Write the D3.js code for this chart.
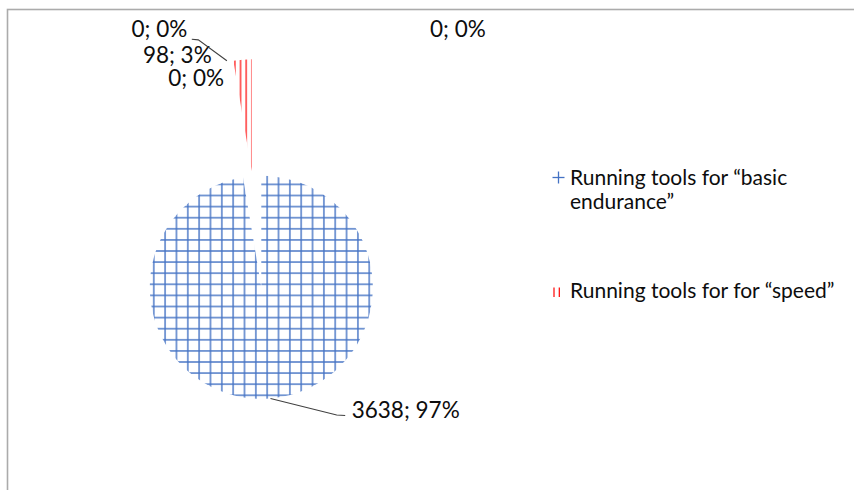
<!DOCTYPE html>
<html><head><meta charset="utf-8">
<script src="https://cdn.jsdelivr.net/npm/d3@7/dist/d3.min.js"></script>
<style>body{margin:0;background:#fff;} svg{display:block;}</style>
</head><body>
<svg id="chart" width="854" height="490"></svg>
<script>
// ---------- data ----------
const categories = ["Running tools for \u201Cbasic endurance\u201D", "Running tools for for \u201Cspeed\u201D", "", "", ""];
const values = [3638, 98, 0, 0, 0];
const seriesColors = ["#4472C4", "#FF0000", "#4472C4", "#4472C4", "#4472C4"];

// ---------- layout ----------
const W = 854, H = 490;
const cx = 261.3, cy = 287.3, R = 111.5;
const explode = [0, 117, 0, 0, 0];
// label anchors relative to pie centre
const labelLayout = [
  {dx: 90.4,  dy: 130.7,  anchor: "start"},
  {dx: -49.6, dy: -224.8, anchor: "end"},
  {dx: -74,   dy: -250.6, anchor: "end"},
  {dx: -37.3, dy: -201.3, anchor: "end"},
  {dx: 168.7, dy: -250.6, anchor: "start"}
];
const labelFont = 22.5, legendFont = 21;
const fontFamily = "Lato, 'Open Sans', sans-serif";

const svg = d3.select("#chart");
svg.append("rect").attr("width", W).attr("height", H).attr("fill", "#fff");
// chart border
svg.append("rect").attr("x", 7.5).attr("y", 9.5).attr("width", 1000).attr("height", 1000)
  .attr("fill", "none").attr("stroke", "#ababab").attr("stroke-width", 1.6);

// ---------- patterns ----------
const defs = svg.append("defs");
const gx = 11.34, gy = 11.1;
const grid = defs.append("pattern").attr("id", "pGrid").attr("patternUnits", "userSpaceOnUse")
  .attr("x", 153.3 - gx / 2).attr("y", 185.7 - gy / 2).attr("width", gx).attr("height", gy);
grid.append("line").attr("x1", gx / 2).attr("x2", gx / 2).attr("y1", 0).attr("y2", gy)
  .attr("stroke", seriesColors[0]).attr("stroke-width", 1.4);
grid.append("line").attr("y1", gy / 2).attr("y2", gy / 2).attr("x1", 0).attr("x2", gx)
  .attr("stroke", seriesColors[0]).attr("stroke-width", 1.4);
const vx = gx / 2;
const vert = defs.append("pattern").attr("id", "pVert").attr("patternUnits", "userSpaceOnUse")
  .attr("x", 238.35 - vx / 2).attr("y", 0).attr("width", vx).attr("height", 20);
vert.append("line").attr("x1", vx / 2).attr("x2", vx / 2).attr("y1", 0).attr("y2", 20)
  .attr("stroke", seriesColors[1]).attr("stroke-width", 1.2);
const fills = ["url(#pGrid)", "url(#pVert)", "url(#pGrid)", "url(#pGrid)", "url(#pGrid)"];

// ---------- pie ----------
const pie = d3.pie().sort(null).value(d => d).startAngle(0).endAngle(2 * Math.PI);
const arcs = pie(values);
const arc = d3.arc().innerRadius(0).outerRadius(R);
const total = d3.sum(values);

function offset(a) {
  const m = (a.startAngle + a.endAngle) / 2;
  const d = explode[a.index];
  return [d * Math.sin(m), -d * Math.cos(m)];
}

const g = svg.append("g").attr("transform", `translate(${cx},${cy})`);
g.selectAll("path.slice").data(arcs).join("path")
  .attr("class", "slice")
  .attr("transform", d => { const o = offset(d); return `translate(${o[0]},${o[1]})`; })
  .attr("d", arc)
  .attr("fill", (d, i) => fills[i])
  .attr("stroke", "none");

// ---------- labels ----------
const labelText = v => `${v}; ${Math.round(v / total * 100)}%`;
g.selectAll("text.lbl").data(arcs).join("text")
  .attr("class", "lbl")
  .attr("x", (d, i) => labelLayout[i].dx)
  .attr("y", (d, i) => labelLayout[i].dy)
  .attr("text-anchor", (d, i) => labelLayout[i].anchor)
  .attr("font-family", fontFamily).attr("font-size", labelFont)
  .attr("fill", "#0d0d0d")
  .text(d => labelText(d.value));

// leader lines
const lead = d3.line();
{
  const a = arcs[0], L = labelLayout[0];
  const m = (a.startAngle + a.endAngle) / 2;
  const p0 = [R * Math.sin(m), -R * Math.cos(m)];
  g.append("path").attr("d", lead([p0, [L.dx - 15, L.dy - 3], [L.dx - 6.5, L.dy - 2.5]]))
    .attr("fill", "none").attr("stroke", "#404040").attr("stroke-width", 1.1);
}
{
  const a = arcs[1], L = labelLayout[2];
  const o = offset(a);
  const p1 = [o[0] + R * Math.sin(a.startAngle) - 6.5, o[1] - R * Math.cos(a.startAngle)];
  g.append("path").attr("d", lead([[L.dx + 4.5, L.dy + 2.6], [L.dx + 11, L.dy + 3.2], p1]))
    .attr("fill", "none").attr("stroke", "#404040").attr("stroke-width", 1.1);
}

// ---------- legend ----------
const legendX = 552.5, legendTextX = 570;
const legendTop = 177.5, legendStep = 113.5, lineH = 24;
const legendItems = categories.map((c, i) => ({name: c, i})).filter(d => d.name !== "");
const lg = svg.append("g");
legendItems.forEach((item, k) => {
  const yc = legendTop + k * legendStep;
  const sw = lg.append("g").attr("transform", `translate(${legendX},${yc - 6})`);
  if (item.i === 0) {
    sw.append("line").attr("x1", 6).attr("x2", 6).attr("y1", 0).attr("y2", 12)
      .attr("stroke", seriesColors[0]).attr("stroke-width", 1.3);
    sw.append("line").attr("x1", 0).attr("x2", 12).attr("y1", 6).attr("y2", 6)
      .attr("stroke", seriesColors[0]).attr("stroke-width", 1.3);
  } else {
    [1.5, 6.8].forEach(x => sw.append("line").attr("x1", x).attr("x2", x).attr("y1", 2.5).attr("y2", 12)
      .attr("stroke", seriesColors[1]).attr("stroke-width", 1.2));
  }
  const t = lg.append("text").attr("font-family", fontFamily).attr("font-size", legendFont)
    .attr("fill", "#0d0d0d");
  const words = item.name.split(" ");
  const maxW = 275;
  let line = [], lineNo = 0;
  let tspan = t.append("tspan").attr("x", legendTextX).attr("y", yc + 7);
  words.forEach(w => {
    line.push(w);
    tspan.text(line.join(" "));
    if (tspan.node().getComputedTextLength() > maxW && line.length > 1) {
      line.pop();
      tspan.text(line.join(" "));
      line = [w];
      lineNo++;
      tspan = t.append("tspan").attr("x", legendTextX).attr("y", yc + 7 + lineNo * lineH).text(w);
    }
  });
});
</script>
</body></html>
